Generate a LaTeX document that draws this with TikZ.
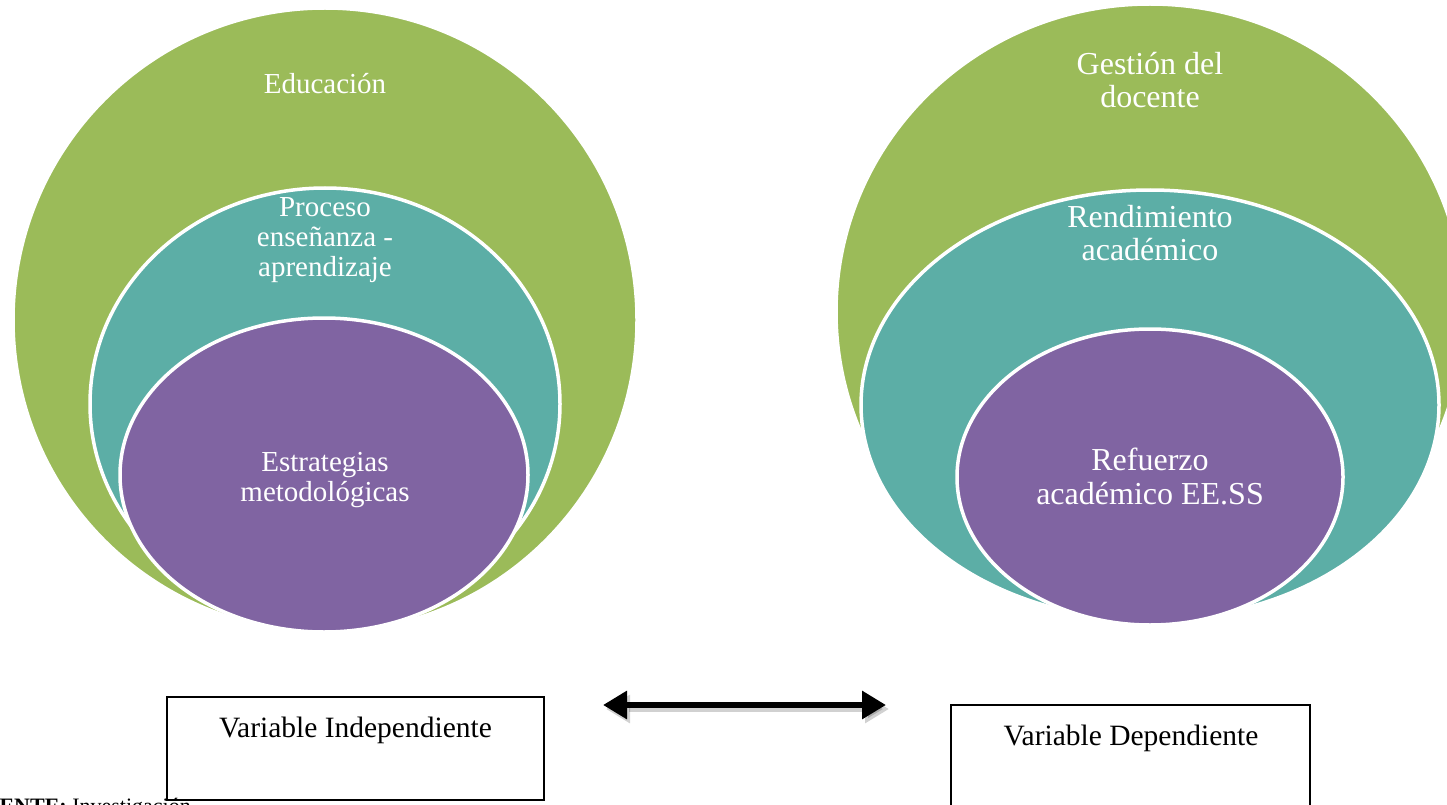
\documentclass[tikz,border=0pt]{standalone}
\usepackage{fontspec}
\setmainfont{Liberation Serif}
\usetikzlibrary{shapes.geometric,arrows.meta}
\definecolor{vgreen}{RGB}{155,187,89}
\definecolor{vteal}{RGB}{92,174,166}
\definecolor{vpurple}{RGB}{128,100,162}
\tikzset{
  blob/.style={ellipse, draw=white, line width=3.5pt, inner sep=0pt},
  intext/.style={text=white, align=center, inner sep=0pt},
  lfont/.style={font=\fontsize{29}{30}\selectfont},
  rfont/.style={font=\fontsize{32}{33.5}\selectfont},
  varbox/.style={draw=black, line width=1.3pt, fill=white},
  boxtext/.style={font=\fontsize{29.5}{31}\selectfont, inner sep=0pt},
  linkarrow/.style={line width=6pt, {Triangle[length=24pt,width=27pt]}-{Triangle[length=24pt,width=27pt]}},
  arrowshadow/.style={line width=6pt, black, opacity=0.18, {Triangle[length=24pt,width=27pt]}-{Triangle[length=24pt,width=27pt]}}
}
\begin{document}
\begin{tikzpicture}[x=1pt,y=-1pt]
\useasboundingbox (0,0) rectangle (1447,805);
\clip (0,0) rectangle (1447,805);
% left stack
\node[blob, fill=vgreen, minimum width=624pt, minimum height=624pt] (lg) at (325,320) {};
\node[blob, fill=vteal, minimum width=470pt, minimum height=432pt] (lt) at (325,404) {};
\node[blob, fill=vpurple, minimum width=408pt, minimum height=314pt] (lp) at (324,475) {};
\node[intext, lfont] (lgt) at (325,84) {Educación};
\node[intext, lfont] (ltt) at (325,240.5) {Proceso\\enseñanza -\\aprendizaje};
\node[intext, lfont] (lpt) at (325,480.5) {Estrategias\\metodológicas};
% right stack
\node[blob, fill=vgreen, minimum width=628pt, minimum height=616pt] (rg) at (1150,312) {};
\node[blob, fill=vteal, minimum width=578pt, minimum height=430pt] (rt) at (1150,405) {};
\node[blob, fill=vpurple, minimum width=386pt, minimum height=296pt] (rp) at (1150,477) {};
\node[intext, rfont] (rgt) at (1150,80) {Gestión del\\docente};
\node[intext, rfont] (rtt) at (1150,233) {Rendimiento\\académico};
\node[intext, rfont] (rpt) at (1150,476.5) {Refuerzo\\académico EE.SS};
% boxes
\node[varbox, minimum width=377pt, minimum height=103pt, inner sep=0pt] (vi) at (355.5,748.5) {};
\node[boxtext] (vit) at (355.5,730) {Variable Independiente};
\node[varbox, minimum width=359pt, minimum height=108pt, inner sep=0pt] (vd) at (1130.5,759) {};
\node[boxtext] (vdt) at (1131,738) {Variable Dependiente};
% arrow
\coordinate (aL) at (603,705);
\coordinate (aR) at (886,705);
\coordinate (sL) at (606,709);
\coordinate (sR) at (889,709);
\draw[arrowshadow] (sL) -- (sR);
\draw[linkarrow] (aL) -- (aR);
% footer
\node[anchor=base west, inner sep=0pt, font=\fontsize{22}{24}\selectfont] (src) at (-30,813) {\textbf{FUENTE:} Investigación};
\end{tikzpicture}
\end{document}
